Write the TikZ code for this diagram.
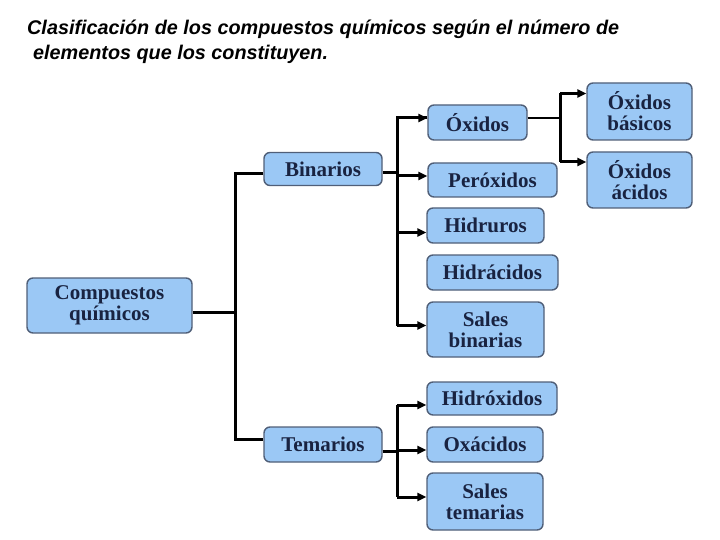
\documentclass[tikz,border=0pt]{standalone}
\usepackage{fontspec}
\setmainfont{Liberation Serif}
\newfontfamily\titlefont{Liberation Sans}
\usetikzlibrary{positioning,arrows.meta}

\definecolor{boxfill}{RGB}{155,200,245}
\definecolor{boxline}{RGB}{80,95,120}
\definecolor{boxtext}{RGB}{25,35,65}

\begin{document}
\begin{tikzpicture}[
  x=1pt,y=-1pt,
  >={Triangle[length=9pt,width=8pt]},
  caja/.style={rounded corners=6pt,draw=boxline,line width=1.4pt,fill=boxfill,
               text=boxtext,align=center,inner sep=0pt,
               font=\fontsize{21}{21}\selectfont\bfseries},
  rama/.style={line width=3pt,black},
  titulo/.style={anchor=base west,inner sep=0pt,
                 font=\titlefont\fontsize{19.8}{22}\selectfont\bfseries\itshape}
]
  \useasboundingbox (0,0) rectangle (720,540);

  % titulo
  \node[titulo] (t1) at (27,35) {Clasificación de los compuestos químicos según el número de};
  \node[titulo] (t2) at (33,60) {elementos que los constituyen.};

  % cajas
  \node[caja,minimum width=165,minimum height=55] (comp) at (109.5,305.5) {Compuestos\\químicos};
  \node[caja,minimum width=118,minimum height=33] (bin)  at (323,169) {Binarios};
  \node[caja,minimum width=118,minimum height=35] (ter)  at (323,444.5) {Temarios};

  \node[caja,minimum width=99,minimum height=35]  (oxi)  at (477.5,122.5) {Óxidos};
  \node[caja,minimum width=129,minimum height=34] (per)  at (492.5,180) {Peróxidos};
  \node[caja,minimum width=117,minimum height=35] (hid)  at (485.5,225.5) {Hidruros};
  \node[caja,minimum width=131,minimum height=35] (hdc)  at (492.5,272.5) {Hidrácidos};
  \node[caja,minimum width=117,minimum height=55] (salb) at (485.5,329.5) {Sales\\binarias};

  \node[caja,minimum width=105,minimum height=57] (oxb)  at (639.5,111.5) {Óxidos\\básicos};
  \node[caja,minimum width=105,minimum height=56] (oxa)  at (639.5,180) {Óxidos\\ácidos};

  \node[caja,minimum width=130,minimum height=33] (hidx) at (492,398.5) {Hidróxidos};
  \node[caja,minimum width=116,minimum height=35] (oxac) at (485,444.5) {Oxácidos};
  \node[caja,minimum width=116,minimum height=57] (salt) at (485,501.5) {Sales\\temarias};

  % ramas
  \coordinate (j1) at (235,0);
  \coordinate (j2) at (397,0);
  \coordinate (j3) at (560,0);

  \draw[rama] ([yshift=-7pt]comp.east) -- ([yshift=-7pt]j1 |- comp.east);
  \draw[rama] ([yshift=-5pt]bin.west) -| ([yshift=5pt]j1 |- ter.west) -- ([yshift=5pt]ter.west);

  \draw[rama] ([yshift=-4pt]bin.east) -- ([yshift=-4pt]j2 |- bin.east);
  \draw[rama] ([yshift=4.5pt]oxi.west) -| ([yshift=4pt]j2 |- salb.west);
  \foreach \n/\s in {oxi/4.5pt,per/4pt,hid/-7pt,salb/4pt}
    \draw[rama,->] ([yshift=\s]j2 |- \n.west) -- ([yshift=\s]\n.west);

  \draw[rama,line width=2pt] ([yshift=4.5pt]oxi.east) -- ([yshift=4.5pt]j3 |- oxi.east);
  \draw[rama] ([yshift=18pt]j3 |- oxb.west) -- ([yshift=18pt]j3 |- oxa.west);
  \foreach \n in {oxb,oxa}
    \draw[rama,->] ([yshift=18pt]j3 |- \n.west) -- ([yshift=18pt]\n.west);

  \draw[rama] ([yshift=-6.5pt]ter.east) -- ([yshift=-6.5pt]j2 |- ter.east);
  \draw[rama] ([yshift=-6.5pt]j2 |- hidx.west) -- ([yshift=4.5pt]j2 |- salt.west);
  \foreach \n/\s in {hidx/-6.5pt,oxac/-5.5pt,salt/4.5pt}
    \draw[rama,->] ([yshift=\s]j2 |- \n.west) -- ([yshift=\s]\n.west);
\end{tikzpicture}
\end{document}
